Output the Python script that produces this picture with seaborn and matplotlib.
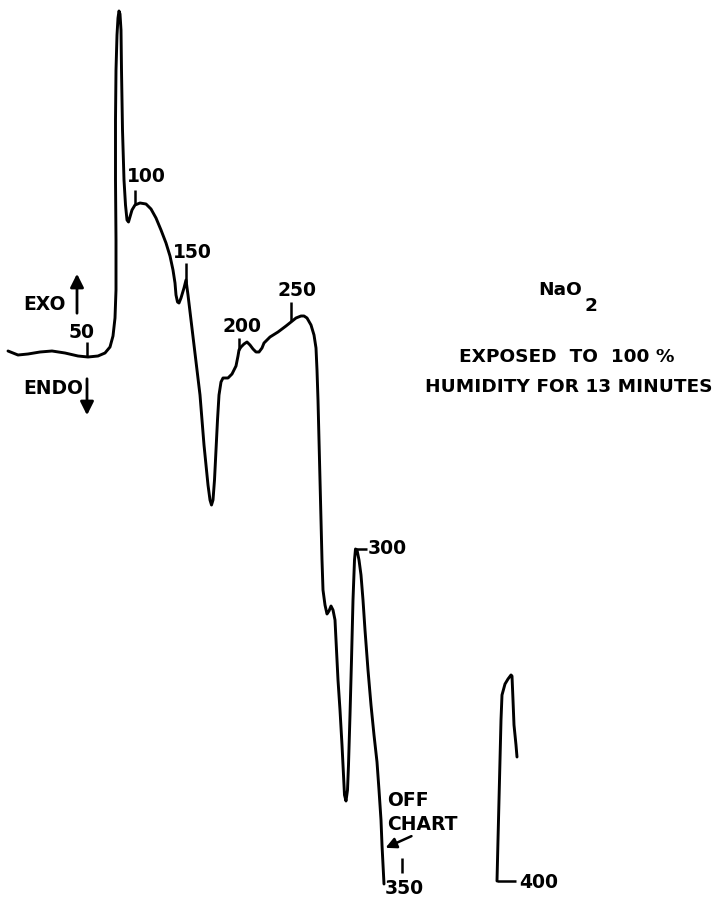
import matplotlib
matplotlib.use("Agg")
import matplotlib.pyplot as plt
import seaborn as sns
import pandas as pd

# DTA trace of NaO2, read as (chart position, deflection) pairs in pixels
main_x = [8, 18, 28, 40, 52, 65, 78, 88, 98, 105, 110, 113, 115, 116, 116, 115.5, 115.5, 116,
          117, 118, 119, 120, 121, 121.5, 122.5, 124, 125.5, 127, 128.5, 130, 132, 135, 140, 146,
          151, 156, 161, 166, 170, 173, 175, 176, 177.5, 179, 181, 184, 186, 188, 191, 194, 197,
          200, 202, 204, 206, 208, 210, 211.5, 213, 214.5, 216, 217.5, 219, 221, 223, 228, 232,
          236, 238, 239, 241, 244, 247, 250, 253, 256, 259, 262, 264, 270, 278, 286, 291, 296,
          301, 304, 307, 311, 314, 316, 317, 318, 319, 320, 321, 322, 323, 325, 327, 329, 331,
          333, 335, 336, 338, 340, 342, 343.5, 344.5, 346, 347.5, 348.5, 350, 351.5, 353, 354.5,
          355.5, 357, 359, 361, 363, 365, 368, 371, 374, 377, 379, 381, 382, 383, 384]
main_y = [351, 355, 354, 352, 351, 353, 356, 357, 356, 353, 347, 336, 318, 290, 240, 180, 120, 70,
          35, 18, 11, 14, 30, 70, 130, 180, 205, 220, 222, 217, 210, 205, 203, 204,
          209, 218, 230, 243, 256, 270, 283, 295, 302, 303, 298, 288, 280, 295, 320, 345, 370,
          395, 420, 445, 465, 485, 500, 505, 500, 480, 450, 420, 395, 382, 378, 378, 374,
          366, 356, 350, 347, 344, 342, 345, 349, 352, 352, 348, 343, 337, 332, 326, 322, 318,
          316, 316, 318, 325, 335, 348, 370, 400, 440, 480, 520, 560, 590, 605, 614, 611, 606,
          610, 620, 640, 680, 710, 745, 775, 795, 801, 790, 765, 715, 660, 600, 560,
          549, 550, 560, 575, 600, 630, 670, 705, 735, 762, 790, 820, 845, 865, 884]

# trace resumed after going off chart
tail_x = [497, 498, 499, 500, 501, 502, 505, 508, 511, 512, 513, 514, 516, 517]
tail_y = [881, 840, 800, 760, 720, 695, 684, 679, 675, 676, 700, 725, 745, 757]

# temperature marks (deg C) along the trace
temps = ["50", "100", "150", "200", "250", "300", "350", "400"]

df = pd.DataFrame({
    "x": main_x + tail_x,
    "y": main_y + tail_y,
    "seg": ["main"] * len(main_x) + ["tail"] * len(tail_x),
})

sns.set_theme(style="white")
plt.rcParams["font.family"] = ["DejaVu Sans"]
plt.rcParams["text.color"] = "black"

fig = plt.figure(figsize=(7.25, 8.98), dpi=100)
ax = fig.add_axes([0, 0, 1, 1])
sns.lineplot(data=df, x="x", y="y", units="seg", estimator=None, sort=False,
             color="black", linewidth=2.1, ax=ax)
ax.set_xlim(0, 725)
ax.set_ylim(898, 0)
ax.set_axis_off()

kw = dict(color="black", linewidth=1.8, solid_capstyle="butt")
tk = dict(fontsize=13.5, fontweight="bold", color="black")

# vertical temperature ticks with labels above
ticks = [(87, 342, 357, 82, 332), (135, 190, 204, 146, 177), (186, 263, 283, 192, 253),
         (239, 338, 350, 242, 327), (291, 302, 321, 297, 290)]
for (tx, y0, y1, lx, ly), lab in zip(ticks, temps[:5]):
    ax.plot([tx, tx], [y0, y1], **kw)
    ax.text(lx, ly, lab, ha="center", va="center", **tk)

# 300: horizontal tick to the right of the peak
ax.plot([355.5, 367], [549, 549], **kw)
ax.text(368, 549, temps[5], ha="left", va="center", **tk)

# 350: small tick above label at end of trace
ax.plot([402, 402], [858, 873], **kw)
ax.text(385, 888, temps[6], ha="left", va="center", **tk)

# 400: L-shaped mark at the base of the resumed trace
ax.plot([497, 516], [881, 881], **kw)
ax.text(519, 882, temps[7], ha="left", va="center", **tk)

# OFF CHART note with arrow
ax.text(387, 800, "OFF", ha="left", va="center", **tk)
ax.text(387, 825, "CHART", ha="left", va="center", **tk)
ax.annotate("", xy=(383, 849), xytext=(414, 835),
            arrowprops=dict(arrowstyle="-|>", color="black", lw=1.8, mutation_scale=16))

# EXO / ENDO direction indicators
ax.text(23, 304, "EXO", ha="left", va="center", **tk)
ax.annotate("", xy=(77, 271), xytext=(77, 316),
            arrowprops=dict(arrowstyle="-|>", color="black", lw=2.0, mutation_scale=20))
ax.text(23, 388, "ENDO", ha="left", va="center", **tk)
ax.annotate("", xy=(87, 418), xytext=(87, 376),
            arrowprops=dict(arrowstyle="-|>", color="black", lw=2.0, mutation_scale=20))

# sample description
dk = dict(fontsize=13.3, fontweight="bold", color="black")
ax.text(560, 290, "NaO", ha="center", va="center", **dk)
ax.text(591, 306, "2", ha="center", va="center", **dk)
ax.text(567, 357, "EXPOSED  TO  100 %", ha="center", va="center", **dk)
ax.text(569, 387, "HUMIDITY FOR 13 MINUTES", ha="center", va="center", **dk)

fig.savefig("out.png", dpi=100, facecolor="white")
